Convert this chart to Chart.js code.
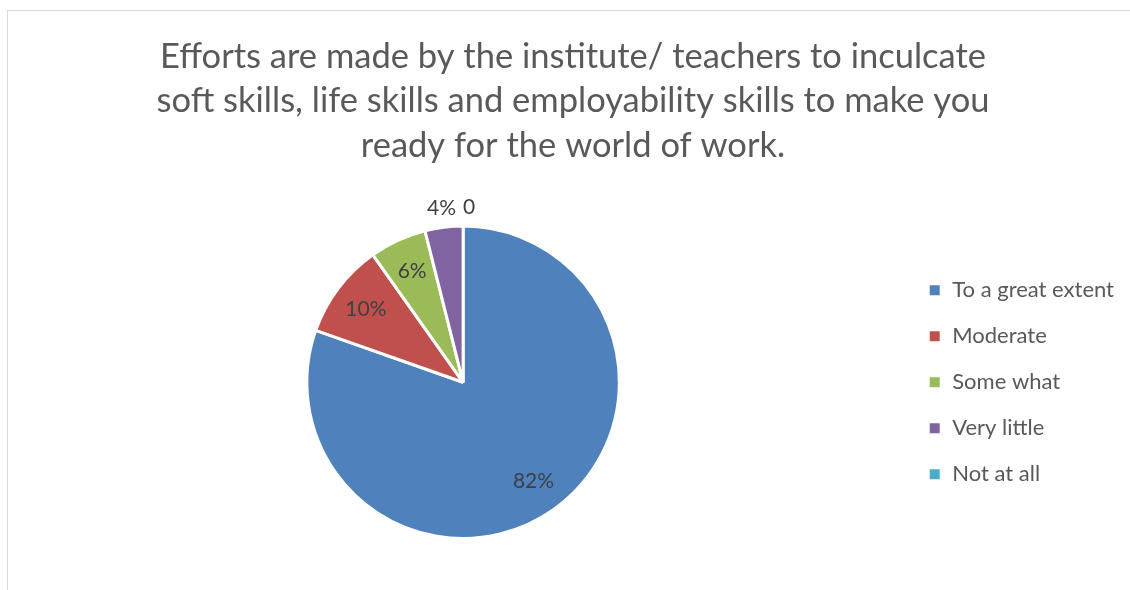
<!DOCTYPE html>
<html>
<head>
<meta charset="utf-8">
<script src="https://cdn.jsdelivr.net/npm/chart.js@4/dist/chart.umd.min.js"></script>
<style>
  html, body { margin: 0; padding: 0; background: #fff; }
  body { width: 1130px; height: 590px; position: relative; overflow: hidden; }
  #frame {
    position: absolute; left: 7px; top: 10px; width: 1140px; height: 600px;
    border-left: 1px solid #d9d9d9; border-top: 1px solid #d9d9d9;
  }
  #wrap { position: absolute; left: 0; top: 0; width: 1130px; height: 590px; }
</style>
</head>
<body>
<div id="frame"></div>
<div id="wrap"><canvas id="pieChart"></canvas></div>
<script>
// Chart data
const categories = ['To a great extent', 'Moderate', 'Some what', 'Very little', 'Not at all'];
const percentValues = [82, 10, 6, 4, 0];
const sliceColors = ['#4F81BD', '#C0504D', '#9BBB59', '#8064A2', '#4BACC6'];
const titleLines = [
  'Efforts are made by the institute/ teachers to inculcate',
  'soft skills, life skills and employability skills to make you',
  'ready for the world of work.'
];

const fontFamily = 'Lato, "Open Sans", sans-serif';

// Draw value labels on / next to the slices
const sliceLabels = {
  id: 'sliceLabels',
  afterDatasetsDraw(chart) {
    const ctx = chart.ctx;
    const meta = chart.getDatasetMeta(0);
    const data = chart.data.datasets[0].data;
    const total = data.reduce((a, b) => a + b, 0);

    ctx.save();
    ctx.font = '21px ' + fontFamily;
    ctx.fillStyle = '#404040';
    ctx.textAlign = 'center';
    ctx.textBaseline = 'middle';

    meta.data.forEach((arc, i) => {
      const { x, y, startAngle, endAngle, outerRadius } = arc.getProps(['x', 'y', 'startAngle', 'endAngle', 'outerRadius'], true);
      const mid = (startAngle + endAngle) / 2;
      const share = data[i] / total;
      const r = share < 0.05 ? outerRadius * 1.12 : outerRadius * 0.78;
      const text = data[i] === 0 ? '0' : data[i] + '%';
      // zero label sits just right of the top so it does not hit its neighbour
      const shift = data[i] === 0 ? 6 : 0;
      ctx.fillText(text, x + Math.cos(mid) * r + shift, y + Math.sin(mid) * r);
    });
    ctx.restore();
  }
};

const ctx = document.getElementById('pieChart').getContext('2d');
const pieChart = new Chart(ctx, {
  type: 'pie',
  data: {
    labels: categories,
    datasets: [{
      data: percentValues,
      backgroundColor: sliceColors,
      borderColor: '#ffffff',
      borderWidth: 3
    }]
  },
  options: {
    responsive: true,
    maintainAspectRatio: false,
    animation: false,
    layout: {
      padding: { left: 22, right: 6, top: 0, bottom: 50 }
    },
    plugins: {
      title: {
        display: true,
        text: titleLines,
        color: '#595959',
        font: { family: fontFamily, size: 34.5, weight: 'normal', lineHeight: 1.3 },
        padding: { top: 34, bottom: 56 }
      },
      legend: {
        position: 'right',
        fullSize: false,
        labels: {
          color: '#595959',
          boxWidth: 13,
          boxHeight: 13,
          padding: 24,
          font: { family: fontFamily, size: 22 }
        }
      },
      tooltip: { enabled: false }
    }
  },
  plugins: [sliceLabels]
});
</script>
</body>
</html>
